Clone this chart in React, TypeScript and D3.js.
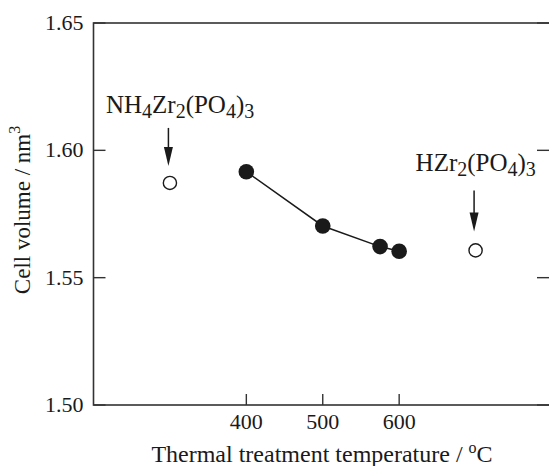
import React from "react"
import * as d3 from "d3"

// filled points: thermally treated samples
const temps = [400, 500, 575, 600]
const volumes = [1.5916, 1.5703, 1.5622, 1.5604]

// open reference points (placed by position, not temperature)
const refNames = ["NH4Zr2(PO4)3", "HZr2(PO4)3"]
const refX = [300, 700]
const refVolumes = [1.5872, 1.5607]

const xTicks = [400, 500, 600]
const yTicks = [1.5, 1.55, 1.6, 1.65]

const W = 549
const H = 466
const FONT = "'Liberation Serif', 'Times New Roman', serif"
const INK = "#1a1a1a"

const x = d3.scaleLinear().domain([200, 800]).range([93.5, 552])
const y = d3.scaleLinear().domain([1.5, 1.65]).range([405, 23])

// split formula into [text, isSub] pieces: digits become subscripts
function formulaParts(s: string) {
  const parts: { t: string; sub: boolean }[] = []
  for (const ch of s) {
    const sub = /[0-9]/.test(ch)
    const last = parts[parts.length - 1]
    if (last && last.sub === sub) last.t += ch
    else parts.push({ t: ch, sub })
  }
  return parts
}

function Formula({ name, px, py }: { name: string; px: number; py: number }) {
  const parts = formulaParts(name)
  let shifted = false
  return (
    <text x={px} y={py} fontSize={25} fontFamily={FONT} fill={INK}>
      {parts.map((p, i) => {
        let dy = 0
        if (p.sub && !shifted) { dy = 5; shifted = true }
        else if (!p.sub && shifted) { dy = -5; shifted = false }
        return (
          <tspan key={i} dy={dy} fontSize={p.sub ? 20 : 25}>
            {p.t}
          </tspan>
        )
      })}
    </text>
  )
}

function Arrow({ ax, y1, y2 }: { ax: number; y1: number; y2: number }) {
  const head = 19
  return (
    <g>
      <line x1={ax} x2={ax} y1={y1} y2={y2 - head + 2} stroke={INK} strokeWidth={1.5} />
      <path d={`M${ax - 4.5},${y2 - head} L${ax + 4.5},${y2 - head} L${ax},${y2} Z`} fill={INK} />
    </g>
  )
}

export default function App() {
  const line = d3
    .line<number>()
    .x((d, i) => x(temps[i]))
    .y((d) => y(d))

  const x0 = x.range()[0]
  const x1 = x.range()[1]
  const yb = y.range()[0]
  const yt = y.range()[1]

  // label offsets relative to each reference point
  const labelDx = [-64, -60]
  const labelDy = [-70, -79]
  const arrowTop = [-55, -60]
  const arrowTip = [-17, -19]

  return (
    <svg
      width={W}
      height={H}
      style={{ position: "absolute", left: 0, top: 0, background: "#fff" }}
    >
      {/* frame */}
      <rect x={x0} y={yt} width={x1 - x0} height={yb - yt} fill="none" stroke="#333" strokeWidth={1.6} />

      {/* y ticks */}
      {yTicks.map((t) => (
        <g key={t}>
          <line x1={x0} x2={x0 + 12} y1={y(t)} y2={y(t)} stroke="#333" strokeWidth={1.4} />
          <line x1={x1 - 15} x2={x1} y1={y(t)} y2={y(t)} stroke="#333" strokeWidth={1.4} />
          <text x={83.5} y={y(t)} dy="0.32em" textAnchor="end" fontSize={22} fontFamily={FONT} fill={INK}>
            {t.toFixed(2)}
          </text>
        </g>
      ))}

      {/* x ticks */}
      {xTicks.map((t) => (
        <g key={t}>
          <line x1={x(t)} x2={x(t)} y1={yb} y2={yb - 11} stroke="#333" strokeWidth={1.4} />
          <text x={x(t)} y={428.5} textAnchor="middle" fontSize={22} fontFamily={FONT} fill={INK}>
            {t}
          </text>
        </g>
      ))}

      {/* axis titles */}
      <text x={322} y={462} textAnchor="middle" fontSize={24} fontFamily={FONT} fill={INK}>
        Thermal treatment temperature /{" "}
        <tspan dy={-9} fontSize={16}>o</tspan>
        <tspan dy={9}>C</tspan>
      </text>
      <text
        transform="translate(30,210) rotate(-90)"
        textAnchor="middle"
        fontSize={23}
        fontFamily={FONT}
        fill={INK}
      >
        Cell volume / nm<tspan dy={-10} fontSize={16}>3</tspan>
      </text>

      {/* series line and filled points */}
      <path d={line(volumes) || ""} fill="none" stroke={INK} strokeWidth={1.5} />
      {volumes.map((v, i) => (
        <circle key={i} cx={x(temps[i])} cy={y(v)} r={7.8} fill={INK} />
      ))}

      {/* reference compounds */}
      {refVolumes.map((v, i) => (
        <g key={refNames[i]}>
          <circle cx={x(refX[i])} cy={y(v)} r={6.6} fill="#fff" stroke={INK} strokeWidth={1.4} />
          <Arrow ax={x(refX[i]) - 1.5} y1={y(v) + arrowTop[i]} y2={y(v) + arrowTip[i]} />
          <Formula name={refNames[i]} px={x(refX[i]) + labelDx[i]} py={y(v) + labelDy[i]} />
        </g>
      ))}
    </svg>
  )
}
